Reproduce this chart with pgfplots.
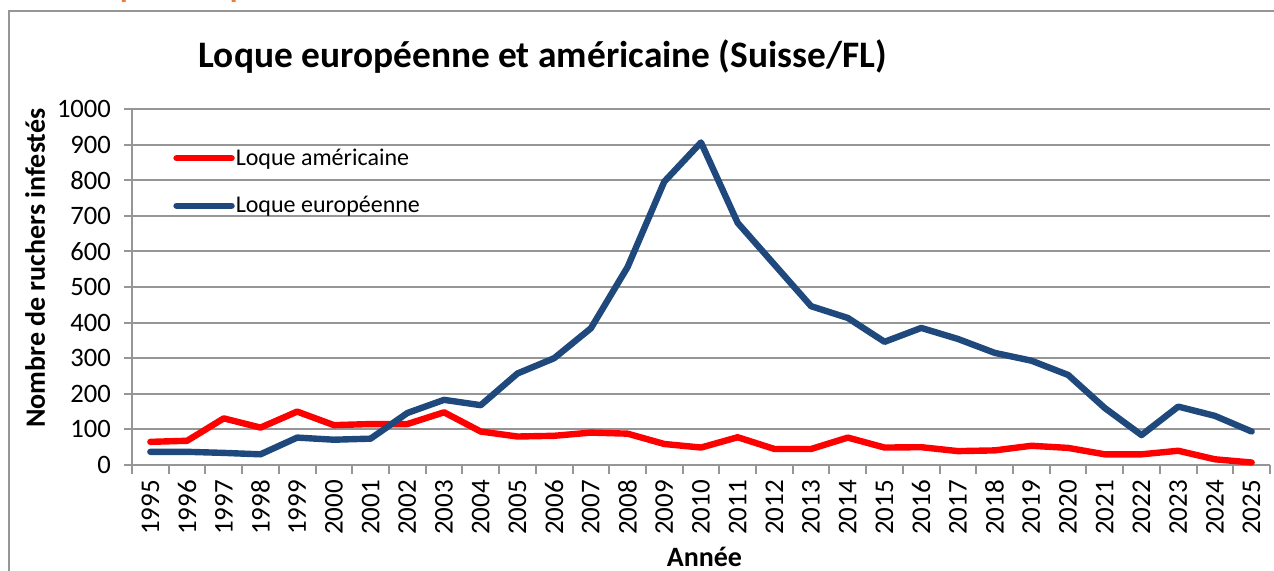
\documentclass[border=0pt]{standalone}
\usepackage{fontspec}
\setmainfont{Carlito}
\usepackage{pgfplots}
\pgfplotsset{compat=1.18}

\definecolor{lqblue}{RGB}{31,73,125}
\definecolor{lqred}{RGB}{255,0,0}
\definecolor{gridgray}{RGB}{150,150,150}
\definecolor{headorange}{RGB}{237,125,49}

% valeurs (nombre de ruchers infestés)
\pgfplotstableread{
annee am eu
1995 65 37
1996 68 37
1997 131 34
1998 105 30
1999 150 77
2000 112 71
2001 115 74
2002 115 146
2003 148 183
2004 94 168
2005 80 257
2006 82 300
2007 91 384
2008 88 556
2009 59 796
2010 49 906
2011 78 680
2012 45 563
2013 45 446
2014 77 413
2015 49 346
2016 50 385
2017 39 354
2018 41 315
2019 54 293
2020 48 253
2021 30 160
2022 30 84
2023 40 164
2024 16 138
2025 7 94
}\loque

\begin{document}
\begin{tikzpicture}
\useasboundingbox (-66pt,-53pt) rectangle (571pt,232.5pt);
% cadre et titre de section coupé en haut
\draw[gridgray, line width=1pt] (-61.5pt,-70pt) -- (-61.5pt,226.75pt) -- (590pt,226.75pt);
\node[anchor=base west, inner sep=0pt, text=headorange, font=\bfseries\fontsize{16}{18}\selectfont]
  at (-59.5pt,233.8pt) {5.};
\node[anchor=base west, inner sep=0pt, text=headorange, font=\bfseries\fontsize{16}{18}\selectfont]
  at (-26pt,233.8pt) {Loque européenne et américaine en Suisse};
\begin{axis}[
    at={(0,0)}, anchor=south west,
    scale only axis,
    width=569pt, height=178pt,
    xmin=1994.5, xmax=2025.5,
    ymin=0, ymax=1000,
    axis lines*=left,
    axis line style={gridgray, line width=1pt},
    xtick={1995,...,2025},
    minor xtick={1994.5,1995.5,...,2025.5},
    major x tick style={draw=none},
    minor x tick style={gridgray, line width=1pt},
    minor tick length=4.5pt,
    ytick={0,100,...,1000},
    y tick style={gridgray, line width=1pt},
    major tick length=4pt,
    tick align=outside,
    ymajorgrids=true,
    grid style={gridgray, line width=1pt},
    /pgf/number format/assume math mode=true,
    /pgf/number format/1000 sep={},
    yticklabel style={font=\fontsize{13.3}{15}\selectfont, xshift=-3pt},
    xticklabel style={rotate=90, anchor=east, font=\fontsize{13.5}{15}\selectfont},
    xlabel={Année},
    ylabel={Nombre de ruchers infestés},
    xlabel style={font=\bfseries\fontsize{14}{16}\selectfont, at={(axis description cs:0.503,-0.258)}, anchor=center},
    ylabel style={font=\bfseries\fontsize{14}{16}\selectfont, at={(axis description cs:-0.085,0.553)}, anchor=center},
    title={Loque européenne et américaine (Suisse/FL)},
    title style={font=\bfseries\fontsize{18.7}{21}\selectfont, at={(axis description cs:0.361,1.082)}, anchor=base},
    legend style={at={(axis description cs:0.036,0.795)}, anchor=west, draw=none, fill=none,
      font=\fontsize{12}{14}\selectfont, row sep=13pt, inner sep=0pt,
      nodes={inner sep=0.5pt}},
    legend cell align=left,
    legend image code/.code={\draw[#1] (0pt,0pt) -- (27.5pt,0pt);},
    clip=false,
]
\addplot[lqred, line width=3.2pt, line join=round, line cap=round] table[x=annee, y=am] {\loque};
\addlegendentry{Loque américaine}
\addplot[lqblue, line width=3.2pt, line join=round, line cap=round] table[x=annee, y=eu] {\loque};
\addlegendentry{Loque européenne}
\end{axis}
\end{tikzpicture}
\end{document}
